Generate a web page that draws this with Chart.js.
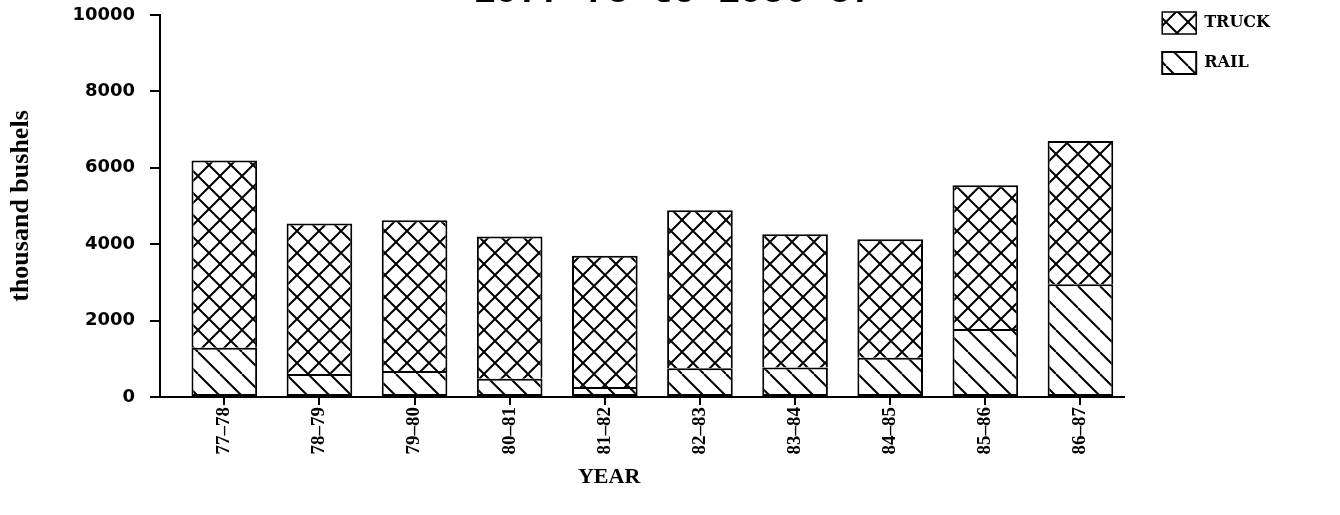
<!DOCTYPE html>
<html>
<head>
<meta charset="utf-8">
<script src="https://cdn.jsdelivr.net/npm/chart.js@4.4.1/dist/chart.umd.min.js"></script>
<style>
  html, body { margin: 0; padding: 0; background: #fff; }
  canvas { display: block; }
</style>
</head>
<body>
<canvas id="shipments" width="1340" height="515"></canvas>
<script>
// crop years and shipments by mode, thousand bushels
const years = ['77\u201378', '78\u201379', '79\u201380', '80\u201381', '81\u201382',
               '82\u201383', '83\u201384', '84\u201385', '85\u201386', '86\u201387'];
const rail  = [1290, 600, 680, 480, 260, 750, 770, 1030, 1780, 2950];
const truck = [4900, 3940, 3950, 3720, 3440, 4140, 3490, 3100, 3760, 3750];
const yTicks = [0, 2000, 4000, 6000, 8000, 10000];

// hatch fills: single diagonal for rail, cross hatch for truck
function hatch(size, cross) {
  const c = document.createElement('canvas');
  c.width = size;
  c.height = size;
  const g = c.getContext('2d');
  g.fillStyle = '#fff';
  g.fillRect(0, 0, size, size);
  g.strokeStyle = '#000';
  g.lineWidth = 2;
  g.beginPath();
  g.moveTo(0, 0); g.lineTo(size, size);
  g.moveTo(-size, 0); g.lineTo(0, size);
  g.moveTo(size, 0); g.lineTo(2 * size, size);
  if (cross) {
    g.moveTo(0, size); g.lineTo(size, 0);
    g.moveTo(-size, size); g.lineTo(0, 0);
    g.moveTo(size, size); g.lineTo(2 * size, 0);
  }
  g.stroke();
  return g.createPattern(c, 'repeat');
}

const ctx = document.getElementById('shipments').getContext('2d');

new Chart(ctx, {
  type: 'bar',
  data: {
    datasets: [{
      label: 'RAIL',
      data: rail.map((v, i) => ({ x: i, y: v })),
      backgroundColor: hatch(22, false),
      borderColor: '#000',
      borderWidth: 2,
      borderSkipped: false
    }, {
      label: 'TRUCK',
      data: truck.map((v, i) => ({ x: i, y: v })),
      backgroundColor: hatch(22, true),
      borderColor: '#000',
      borderWidth: { top: 2, left: 2, right: 2, bottom: 0 },
      borderSkipped: false
    }]
  },
  options: {
    responsive: false,
    animation: false,
    devicePixelRatio: 1,
    categoryPercentage: 1,
    barPercentage: 0.69,
    layout: { padding: { top: -6, right: 60 } },
    plugins: {
      tooltip: { enabled: false },
      title: {
        display: true,
        text: '   1977-78 to 1986-87',
        color: '#000',
        font: { family: 'Liberation Mono', size: 37, weight: 'bold' },
        padding: { top: -43, bottom: 0 }
      },
      legend: {
        position: 'right',
        align: 'start',
        reverse: true,
        labels: {
          color: '#000',
          boxWidth: 34,
          boxHeight: 22,
          padding: 18,
          font: { family: 'DejaVu Serif', size: 16, weight: 'bold' }
        }
      }
    },
    scales: {
      x: {
        type: 'linear',
        stacked: true,
        offset: false,
        min: -0.676,
        max: 9.46,
        afterBuildTicks: s => { s.ticks = years.map((_, i) => ({ value: i })); },
        afterFit: s => { s.height = 118; },
        border: { color: '#000', width: 2 },
        grid: { offset: false, drawOnChartArea: false, color: '#000', lineWidth: 2, tickLength: 8 },
        ticks: {
          autoSkip: false,
          minRotation: 90,
          maxRotation: 90,
          padding: 2,
          color: '#000',
          font: { family: 'Liberation Serif', size: 19, weight: 'bold' },
          callback: v => years[v]
        },
        title: {
          display: true,
          text: 'YEAR            ',
          color: '#000',
          font: { family: 'Liberation Serif', size: 22, weight: 'bold' },
          padding: { top: 0, bottom: 24 }
        }
      },
      y: {
        stacked: true,
        min: 0,
        max: 10000,
        afterBuildTicks: s => { s.ticks = yTicks.map(v => ({ value: v })); },
        afterFit: s => { s.width = 160; s.paddingTop = 15; },
        border: { color: '#000', width: 2 },
        grid: { drawOnChartArea: false, color: '#000', lineWidth: 2, tickLength: 10 },
        ticks: {
          padding: 15,
          color: '#000',
          font: { family: 'DejaVu Sans', size: 18, weight: 'bold' },
          callback: v => String(v)
        },
        title: {
          display: true,
          text: 'thousand bushels',
          color: '#000',
          font: { family: 'Liberation Serif', size: 26, weight: 'bold' },
          padding: { top: 6, bottom: 0 }
        }
      },
      // empty right-hand axis that keeps the legend clear of the bars
      gap: {
        position: 'right',
        display: true,
        grid: { display: false },
        border: { display: false },
        ticks: { display: false },
        afterFit: s => { s.width = 20; }
      }
    }
  }
});
</script>
</body>
</html>
